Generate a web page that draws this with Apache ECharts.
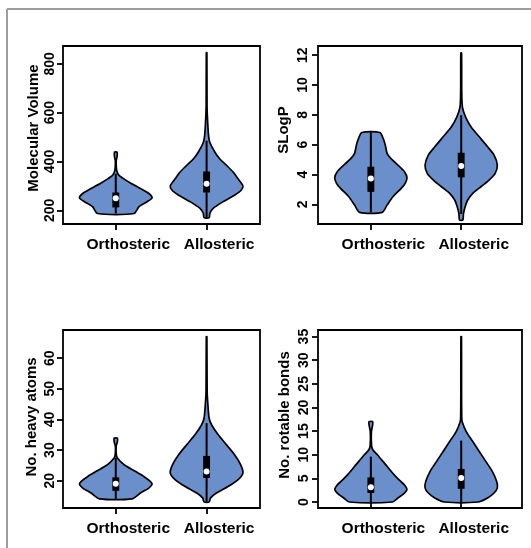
<!DOCTYPE html>
<html>
<head>
<meta charset="utf-8">
<script src="https://cdn.jsdelivr.net/npm/echarts@6.0.0/dist/echarts.min.js"></script>
<style>
  html, body { margin: 0; padding: 0; background: #fff; }
  #main { width: 531px; height: 548px; }
</style>
</head>
<body>
<div id="main"></div>
<script>
const categories = ['Orthosteric', 'Allosteric'];

// violin outlines: [value, relative half-width], bottom to top
const volumeOrtho = [[187, 0.5], [215, 0.64], [235, 0.86], [251, 1.0], [269, 0.91], [289, 0.68], [316, 0.36], [343, 0.09], [363, 0.025], [385, 0.012], [404, 0.012], [420, 0.036], [438, 0.036]];
const volumeAllo = [[170, 0.07], [188, 0.09], [208, 0.18], [235, 0.45], [262, 0.77], [282, 0.95], [300, 1.0], [330, 0.86], [357, 0.73], [384, 0.55], [411, 0.36], [438, 0.23], [478, 0.09], [505, 0.055], [560, 0.03], [627, 0.012], [846, 0.008]];
const slogpOrtho = [[1.46, 0.31], [1.95, 0.45], [2.51, 0.61], [3.07, 0.84], [3.41, 0.95], [3.78, 1.0], [4.18, 0.93], [4.63, 0.75], [5.08, 0.55], [5.42, 0.45], [5.97, 0.4], [6.42, 0.34], [6.82, 0.25]];
const slogpAllo = [[0.95, 0.045], [1.4, 0.064], [1.84, 0.11], [2.29, 0.18], [2.74, 0.32], [3.18, 0.55], [3.63, 0.77], [4.08, 0.94], [4.63, 1.0], [5.3, 0.91], [5.86, 0.73], [6.53, 0.5], [7.2, 0.27], [7.87, 0.12], [8.5, 0.035], [9.5, 0.015], [12.15, 0.01]];
const heavyOrtho = [[14.1, 0.45], [16.0, 0.68], [17.6, 0.91], [18.9, 1.0], [19.8, 0.95], [21.4, 0.77], [23.0, 0.55], [25.2, 0.23], [27.4, 0.045], [28.5, 0.015], [31.2, 0.01], [32.8, 0.045], [33.9, 0.045]];
const heavyAllo = [[13.1, 0.07], [14.4, 0.11], [16.0, 0.27], [18.1, 0.59], [20.3, 0.86], [22.5, 1.0], [25.2, 0.94], [28.5, 0.77], [31.7, 0.55], [35.0, 0.32], [38.2, 0.14], [40.4, 0.07], [44.8, 0.036], [49.1, 0.015], [67.0, 0.008]];
const rotOrtho = [[0, 0.6], [0.85, 0.75], [1.9, 0.93], [2.7, 1.0], [3.6, 0.93], [4.4, 0.82], [5.8, 0.64], [7.9, 0.41], [10.0, 0.18], [11.1, 0.05], [12.1, 0.018], [14.9, 0.015], [16.3, 0.05], [17.0, 0.05]];
const rotAllo = [[0, 0.47], [0.85, 0.73], [1.9, 0.91], [3.0, 1.0], [4.4, 0.98], [6.5, 0.86], [8.6, 0.68], [10.7, 0.5], [12.8, 0.32], [14.9, 0.14], [17.0, 0.027], [17.8, 0.015], [23.4, 0.01], [35.0, 0.008]];

// box stats: [lower whisker, Q1, median, Q3, upper whisker]
const volumeBox = [[187, 212, 249, 273, 350], [170, 273, 309, 359, 485]];
const slogpBox = [[1.46, 2.84, 3.74, 4.52, 6.82], [1.35, 3.81, 4.57, 5.46, 7.98]];
const heavyBox = [[14.1, 16.7, 19.0, 21.1, 27.4], [13.1, 20.9, 23.0, 28.1, 38.8]];
const rotBox = [[0, 1.9, 3.1, 5.2, 9.6], [0, 2.8, 5.1, 7.0, 13.0]];

// tick labels
const volumeTicks = [200, 400, 600, 800];
const slogpTicks = [2, 4, 6, 8, 10, 12];
const heavyTicks = [20, 30, 40, 50, 60];
const rotTicks = [0, 5, 10, 15, 20, 25, 30, 35];

const FONT = "'Liberation Sans', Arial, sans-serif";
const FILL = '#6b8fca';
const HALF = 0.4;   // max half-width of a violin in x units
const BOXW = 0.038; // half-width of the IQR box

// nudge = how far the y title sits above the panel middle (px)
const panels = [
  { grid: { left: 63, top: 46, width: 197, height: 178 }, x: [0.419, 2.588], y: [144, 873], ticks: volumeTicks, name: 'Molecular Volume', gap: 22, nudge: 7, margin: 6, prof: [volumeOrtho, volumeAllo], box: volumeBox },
  { grid: { left: 318, top: 46, width: 204, height: 178 }, x: [0.415, 2.673], y: [0.68, 12.62], ticks: slogpTicks, name: 'SLogP', gap: 27, nudge: 5, margin: 8, prof: [slogpOrtho, slogpAllo], box: slogpBox },
  { grid: { left: 63, top: 330, width: 197, height: 178 }, x: [0.419, 2.588], y: [11.1, 69.2], ticks: heavyTicks, name: 'No. heavy atoms', gap: 24, nudge: 2, margin: 6, prof: [heavyOrtho, heavyAllo], box: heavyBox },
  { grid: { left: 318, top: 330, width: 204, height: 178 }, x: [0.415, 2.673], y: [-1.27, 36.4], ticks: rotTicks, name: 'No. rotable bonds', gap: 26, nudge: 4, margin: 7, prof: [rotOrtho, rotAllo], box: rotBox }
];

function violinRenderer(profiles, boxes) {
  return function (params, api) {
    const i = params.dataIndex;
    const x = api.value(0);
    const prof = profiles[i];
    const right = prof.map(p => api.coord([x + HALF * p[1], p[0]]));
    const left = prof.slice().reverse().map(p => api.coord([x - HALF * p[1], p[0]]));
    const b = boxes[i];
    const lo = api.coord([x, b[0]]);
    const hi = api.coord([x, b[4]]);
    const q1 = api.coord([x - BOXW, b[1]]);
    const q3 = api.coord([x + BOXW, b[3]]);
    const med = api.coord([x, b[2]]);
    return {
      type: 'group',
      children: [
        { type: 'polygon', shape: { points: right.concat(left), smooth: 0.25 }, style: { fill: FILL, stroke: '#000', lineWidth: 1.7 } },
        { type: 'line', shape: { x1: lo[0], y1: lo[1], x2: hi[0], y2: hi[1] }, style: { stroke: '#000', lineWidth: 2 } },
        { type: 'rect', shape: { x: q1[0], y: q3[1], width: q3[0] - q1[0], height: q1[1] - q3[1] }, style: { fill: '#000' } },
        { type: 'circle', shape: { cx: med[0], cy: med[1], r: 3 }, style: { fill: '#fff' } }
      ]
    };
  };
}

const chart = echarts.init(document.getElementById('main'), null, { renderer: 'canvas' });

const option = {
  backgroundColor: '#fff',
  animation: false,
  textStyle: { fontFamily: FONT },
  graphic: [
    { type: 'line', shape: { x1: 7, y1: 9, x2: 531, y2: 9 }, style: { stroke: '#9d9d9d', lineWidth: 2 } },
    { type: 'line', shape: { x1: 7, y1: 9, x2: 7, y2: 548 }, style: { stroke: '#9d9d9d', lineWidth: 2 } }
  ],
  grid: panels.map(p => Object.assign({ show: true, borderColor: '#000', borderWidth: 1.8, backgroundColor: 'transparent' }, p.grid)),
  xAxis: panels.map((p, k) => ({
    type: 'value',
    gridIndex: k,
    min: p.x[0],
    max: p.x[1],
    axisLine: { show: false },
    splitLine: { show: false },
    axisTick: { show: true, customValues: [1, 2], length: 6, lineStyle: { color: '#000', width: 1.8 } },
    axisLabel: {
      customValues: [1, 2],
      formatter: v => categories[Math.round(v) - 1],
      color: '#000', fontSize: 15.5, fontWeight: 'bold', fontFamily: FONT, margin: 13,
      padding: [0, 0, 0, 25]
    }
  })),
  yAxis: panels.map((p, k) => ({
    type: 'value',
    gridIndex: k,
    min: p.y[0],
    max: p.y[1],
    axisLine: { show: false },
    splitLine: { show: false },
    axisTick: { show: true, customValues: p.ticks, length: 6, lineStyle: { color: '#000', width: 1.8 } },
    axisLabel: {
      customValues: p.ticks,
      rotate: 90,
      color: '#000', fontSize: 14, fontWeight: 'bold', fontFamily: FONT, margin: p.margin
    },
    name: p.name,
    nameLocation: 'middle',
    nameRotate: 90,
    nameGap: p.gap,
    nameTextStyle: { color: '#000', fontSize: 15, fontWeight: 'bold', fontFamily: FONT, padding: [0, 0, 0, 2 * p.nudge] }
  })),
  series: panels.map((p, k) => ({
    type: 'custom',
    xAxisIndex: k,
    yAxisIndex: k,
    coordinateSystem: 'cartesian2d',
    renderItem: violinRenderer(p.prof, p.box),
    data: [[1], [2]],
    clip: false
  }))
};

chart.setOption(option);
</script>
</body>
</html>
